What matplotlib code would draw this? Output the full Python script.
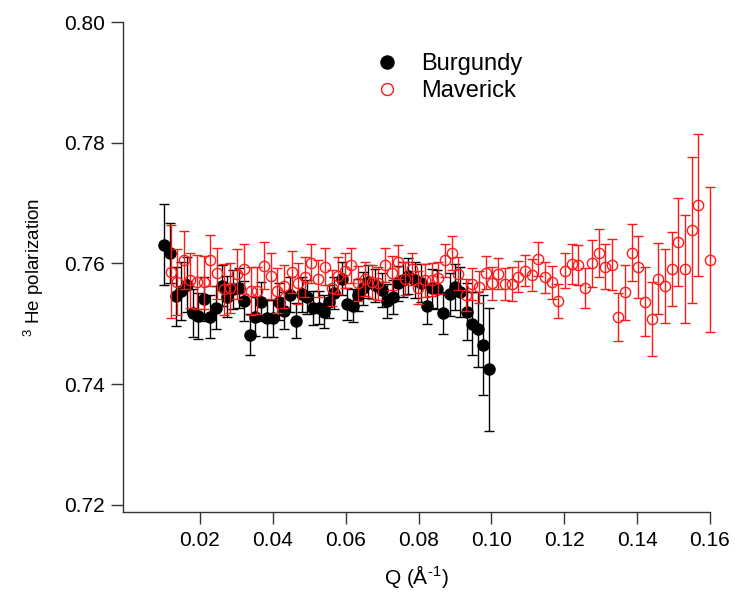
import matplotlib
matplotlib.use("Agg")
import matplotlib.pyplot as plt
from matplotlib.lines import Line2D

plt.rcParams['font.family'] = ['Liberation Sans', 'DejaVu Sans']
plt.rcParams['mathtext.fontset'] = 'custom'
plt.rcParams['mathtext.rm'] = 'Liberation Sans'
plt.rcParams['mathtext.it'] = 'Liberation Sans'
plt.rcParams['mathtext.default'] = 'regular'

# ---------------- data ----------------
burg_q = [0.0102, 0.0118, 0.0134, 0.0149, 0.0164, 0.0180, 0.0196, 0.0212, 0.0227, 0.0244,
          0.0260, 0.0274, 0.0290, 0.0306, 0.0321, 0.0337, 0.0352, 0.0369, 0.0385, 0.0401,
          0.0417, 0.0432, 0.0447, 0.0463, 0.0479, 0.0494, 0.0510, 0.0526, 0.0540, 0.0555,
          0.0568, 0.0589, 0.0604, 0.0621, 0.0635, 0.0648, 0.0662, 0.0680, 0.0699, 0.0714,
          0.0729, 0.0744, 0.0758, 0.0772, 0.0790, 0.0808, 0.0822, 0.0836, 0.0850, 0.0868,
          0.0886, 0.0900, 0.0914, 0.0932, 0.0946, 0.0962, 0.0978, 0.0993]
burg_p = [0.7631, 0.7617, 0.7546, 0.7555, 0.7565, 0.7518, 0.7513, 0.7541, 0.7512, 0.7527,
          0.7563, 0.7545, 0.7557, 0.7559, 0.7538, 0.7482, 0.7512, 0.7537, 0.7509, 0.7509,
          0.7537, 0.7522, 0.7548, 0.7505, 0.7549, 0.7545, 0.7526, 0.7527, 0.7520, 0.7537,
          0.7551, 0.7575, 0.7533, 0.7530, 0.7548, 0.7559, 0.7570, 0.7564, 0.7556, 0.7538,
          0.7544, 0.7567, 0.7573, 0.7579, 0.7573, 0.7568, 0.7530, 0.7559, 0.7557, 0.7518,
          0.7549, 0.7561, 0.7553, 0.7520, 0.7500, 0.7491, 0.7465, 0.7425]
burg_err = [0.0067, 0.0050, 0.0049, 0.0048, 0.0045, 0.0039, 0.0038, 0.0037, 0.0036, 0.0035,
            0.0034, 0.0034, 0.0033, 0.0033, 0.0033, 0.0034, 0.0032, 0.0032, 0.0031, 0.0031,
            0.0030, 0.0030, 0.0029, 0.0029, 0.0029, 0.0028, 0.0028, 0.0028, 0.0027, 0.0027,
            0.0027, 0.0027, 0.0026, 0.0027, 0.0027, 0.0027, 0.0027, 0.0027, 0.0028, 0.0028,
            0.0028, 0.0029, 0.0029, 0.0030, 0.0030, 0.0031, 0.0031, 0.0032, 0.0033, 0.0034,
            0.0036, 0.0038, 0.0042, 0.0047, 0.0052, 0.0062, 0.0082, 0.0102]

mav_q = [0.0120, 0.0138, 0.0156, 0.0174, 0.0193, 0.0211, 0.0229, 0.0248, 0.0266, 0.0284,
         0.0302, 0.0321, 0.0339, 0.0357, 0.0376, 0.0395, 0.0413, 0.0431, 0.0452, 0.0470,
         0.0488, 0.0506, 0.0525, 0.0543, 0.0562, 0.0580, 0.0598, 0.0616, 0.0635, 0.0653,
         0.0671, 0.0690, 0.0708, 0.0726, 0.0744, 0.0763, 0.0781, 0.0799, 0.0818, 0.0836,
         0.0854, 0.0873, 0.0891, 0.0909, 0.0930, 0.0948, 0.0966, 0.0985, 0.1001, 0.1019,
         0.1037, 0.1056, 0.1074, 0.1092, 0.1111, 0.1129, 0.1147, 0.1166, 0.1184, 0.1202,
         0.1221, 0.1239, 0.1257, 0.1276, 0.1294, 0.1312, 0.1331, 0.1348, 0.1366, 0.1385,
         0.1403, 0.1421, 0.1440, 0.1458, 0.1476, 0.1495, 0.1513, 0.1531, 0.1550, 0.1568,
         0.1600]
mav_p = [0.7586, 0.7569, 0.7605, 0.7572, 0.7569, 0.7569, 0.7605, 0.7584, 0.7557, 0.7559,
         0.7583, 0.7591, 0.7555, 0.7555, 0.7596, 0.7579, 0.7555, 0.7562, 0.7586, 0.7567,
         0.7578, 0.7600, 0.7575, 0.7595, 0.7559, 0.7580, 0.7588, 0.7597, 0.7567, 0.7574,
         0.7570, 0.7567, 0.7597, 0.7584, 0.7602, 0.7575, 0.7591, 0.7560, 0.7572, 0.7573,
         0.7576, 0.7605, 0.7617, 0.7583, 0.7548, 0.7566, 0.7561, 0.7585, 0.7567, 0.7583,
         0.7566, 0.7566, 0.7578, 0.7588, 0.7581, 0.7607, 0.7577, 0.7569, 0.7538, 0.7588,
         0.7599, 0.7597, 0.7559, 0.7600, 0.7617, 0.7595, 0.7598, 0.7511, 0.7552, 0.7618,
         0.7594, 0.7537, 0.7508, 0.7575, 0.7563, 0.7591, 0.7635, 0.7591, 0.7656, 0.7697,
         0.7606]
mav_err = [0.0077, 0.0055, 0.0048, 0.0046, 0.0045, 0.0044, 0.0043, 0.0042, 0.0042, 0.0041,
           0.0041, 0.0041, 0.0040, 0.0039, 0.0039, 0.0038, 0.0037, 0.0036, 0.0035, 0.0034,
           0.0033, 0.0032, 0.0031, 0.0031, 0.0030, 0.0030, 0.0029, 0.0029, 0.0029, 0.0028,
           0.0028, 0.0028, 0.0028, 0.0028, 0.0028, 0.0027, 0.0027, 0.0027, 0.0027, 0.0027,
           0.0027, 0.0027, 0.0028, 0.0027, 0.0027, 0.0027, 0.0027, 0.0027, 0.0027, 0.0026,
           0.0027, 0.0028, 0.0026, 0.0026, 0.0026, 0.0028, 0.0026, 0.0027, 0.0028, 0.0029,
           0.0033, 0.0033, 0.0033, 0.0039, 0.0040, 0.0038, 0.0042, 0.0040, 0.0045, 0.0047,
           0.0051, 0.0057, 0.0061, 0.0059, 0.0061, 0.0061, 0.0073, 0.0090, 0.0121, 0.0118,
           0.0120]

series_labels = ['Burgundy', 'Maverick']
x_ticks = [0.02, 0.04, 0.06, 0.08, 0.10, 0.12, 0.14, 0.16]
y_ticks = [0.72, 0.74, 0.76, 0.78, 0.80]

RED = '#ff1a1a'

# ---------------- figure ----------------
fig = plt.figure(figsize=(7.35, 5.92), dpi=100)
ax = fig.add_axes([123/735, 1-512/592, (710-123)/735, (512-22)/592])

eb1 = ax.errorbar(burg_q, burg_p, yerr=burg_err, fmt='o', color='black', ms=8,
                  mfc='black', mec='black', ecolor='black', elinewidth=1.0,
                  capsize=3.3, capthick=1.0, zorder=2)
eb2 = ax.errorbar(mav_q, mav_p, yerr=mav_err, fmt='o', color=RED, ms=7.4,
                  mfc='none', mec=RED, mew=1.0, ecolor=RED, elinewidth=1.0,
                  capsize=3.3, capthick=1.0, zorder=3)
for eb in (eb1, eb2):
    for art in eb.get_children():
        art.set_clip_on(False)

ax.set_xlim(-0.0011, 0.16)
ax.set_ylim(0.71884, 0.80)
ax.set_xticks(x_ticks)
ax.set_xticklabels([f"{t:.2f}" for t in x_ticks])
ax.set_yticks(y_ticks)
ax.set_yticklabels([f"{t:.2f}" for t in y_ticks])

for s in ['top', 'right']:
    ax.spines[s].set_visible(False)
for s in ['left', 'bottom']:
    ax.spines[s].set_color('#333333')
    ax.spines[s].set_linewidth(1.0)
ax.tick_params(axis='both', direction='out', length=8.6, width=1.0,
               color='#333333', labelsize=15, labelcolor='black')
ax.tick_params(axis='y', pad=4.3)
ax.tick_params(axis='x', pad=5)

ax.set_xlabel('Q (Å$^{\u2010}$$^{1}$)', fontsize=15)
ax.xaxis.set_label_coords(0.5, -0.104)
ax.set_ylabel(r'$^{3}$ He polarization', fontsize=13.5)
ax.yaxis.set_label_coords(-0.131, 0.5)

handles = [Line2D([], [], ls='none', marker='o', ms=9.4, mfc='black', mec='black'),
           Line2D([], [], ls='none', marker='o', ms=8.6, mfc='none', mec=RED, mew=1.0)]
ax.legend(handles, series_labels, loc='upper left', bbox_to_anchor=(0.4296, 0.936),
          frameon=False, fontsize=17, handlelength=1.0, handletextpad=0.94,
          borderpad=0, borderaxespad=0, labelspacing=0.2, numpoints=1)

fig.savefig('out.png', dpi=100)
